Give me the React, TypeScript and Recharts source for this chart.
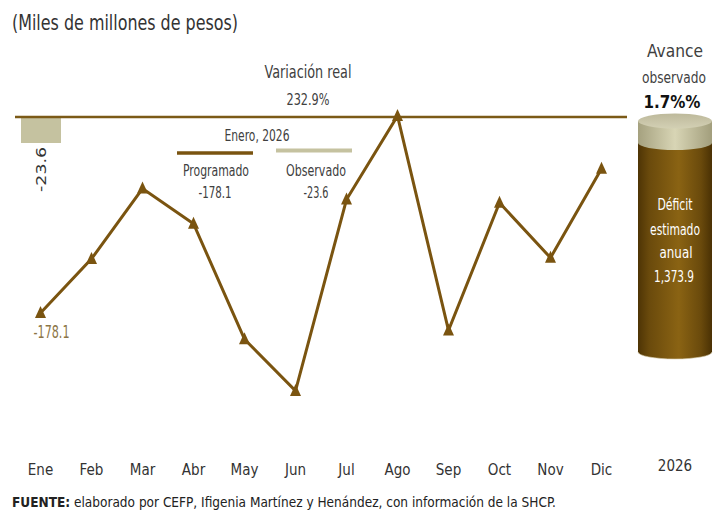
// Balance mensual programado vs observado + cilindro de avance anual.
import { Bar, BarChart, ComposedChart, LabelList, Line, ReferenceLine, XAxis, YAxis } from 'recharts';

const meses = ['Ene', 'Feb', 'Mar', 'Abr', 'May', 'Jun', 'Jul', 'Ago', 'Sep', 'Oct', 'Nov', 'Dic'];
const programado = [-178.1, -129, -65, -97, -202, -249, -75, 1, -194, -78, -128, -47];
const observado: (number | null)[] = [-23.6, null, null, null, null, null, null, null, null, null, null, null];
const anio = ['2026'];
const deficitAnual = [1373.9];

const FONT = "'Liberation Sans Narrow', 'DejaVu Sans Condensed', Roboto, sans-serif";
const BROWN = '#7A5410';
const KHAKI = '#C5C2A0';

const rows = meses.map((m, i) => ({ mes: m, prog: programado[i], obs: observado[i] }));
const cyl = anio.map((a, i) => ({ anio: a, total: deficitAnual[i] }));

function T({ x, y, children, size = 15, w, anchor = 'middle', fill = '#404040', weight = 400, family = FONT }: any) {
  return (
    <text x={x} y={y} textAnchor={anchor} dominantBaseline="central" fontSize={size} fontWeight={weight}
      fill={fill} fontFamily={family} textLength={w} lengthAdjust={w ? 'spacingAndGlyphs' : undefined}>
      {children}
    </text>
  );
}

function MonthTick({ x, y, payload, off = 15 }: any) {
  return <T x={x} y={y + off} size={15} fill="#333">{payload.value}</T>;
}

function Tri({ cx, cy }: any) {
  if (cx == null || cy == null) return null;
  return <polygon points={`${cx},${cy - 7} ${cx - 5.5},${cy + 5} ${cx + 5.5},${cy + 5}`} fill={BROWN} />;
}

function ObsLabel({ x, y, width, height, value }: any) {
  if (value == null) return null;
  const cx = x + width / 2;
  const bottom = Math.max(y, y + height);
  return (
    <text x={cx} y={bottom + 4} transform={`rotate(-90 ${cx} ${bottom + 4})`} textAnchor="end" dominantBaseline="central"
      fontSize={14} fill="#333" fontFamily="'DejaVu Sans', sans-serif" textLength={45} lengthAdjust="spacingAndGlyphs">
      {value}
    </text>
  );
}

function FirstLabel({ x, y, index, value }: any) {
  if (index !== 0) return null;
  return <T x={x + 11} y={y + 19} size={17} w={36} fill="#8B7545">{value}</T>;
}

function Cylinder({ x, y, width, height }: any) {
  const rx = width / 2;
  const ry = 7;
  const cx = x + rx;
  const lightH = height * 0.095;
  const bottom = y + height;
  return (
    <g>
      <defs>
        <linearGradient id="cyl-dark" x1="0" y1="0" x2="1" y2="0">
          <stop offset="0%" stopColor="#4E3405" />
          <stop offset="15%" stopColor="#6A4A0C" />
          <stop offset="55%" stopColor="#8A6313" />
          <stop offset="85%" stopColor="#6A4A0C" />
          <stop offset="100%" stopColor="#4A3104" />
        </linearGradient>
        <linearGradient id="cyl-light" x1="0" y1="0" x2="1" y2="0">
          <stop offset="0%" stopColor="#A5A17F" />
          <stop offset="50%" stopColor="#D8D5B5" />
          <stop offset="100%" stopColor="#A29E7C" />
        </linearGradient>
        <linearGradient id="cyl-top" x1="0" y1="0" x2="0" y2="1">
          <stop offset="0%" stopColor="#BDB99B" />
          <stop offset="100%" stopColor="#D3D0B4" />
        </linearGradient>
      </defs>
      <ellipse cx={cx} cy={bottom} rx={rx} ry={ry} fill="url(#cyl-dark)" stroke="#D9CFAF" strokeWidth={0.6} />
      <rect x={x} y={y + lightH} width={width} height={height - lightH} fill="url(#cyl-dark)" />
      <rect x={x} y={y} width={width} height={lightH} fill="url(#cyl-light)" />
      <ellipse cx={cx} cy={y + lightH} rx={rx} ry={ry} fill="url(#cyl-light)" />
      <ellipse cx={cx} cy={y} rx={rx} ry={ry + 0.5} fill="url(#cyl-top)" />
    </g>
  );
}

export default function App() {
  return (
    <div style={{ position: 'relative', width: 719, height: 518, background: '#fff', fontFamily: FONT }}>
      <style>{'body{margin:0}'}</style>
      <div style={{ position: 'absolute', left: 0, top: 0 }}>
        <ComposedChart width={719} height={518} data={rows} margin={{ top: 73, right: 92, left: 15, bottom: 41 }}>
          <XAxis dataKey="mes" axisLine={false} tickLine={false} height={30} interval={0} tick={<MonthTick />} />
          <YAxis hide domain={[-300, 40]} />
          <Bar dataKey="obs" fill={KHAKI} barSize={40} isAnimationActive={false}>
            <LabelList dataKey="obs" content={<ObsLabel />} />
          </Bar>
          <ReferenceLine y={0} stroke="#7B5A17" strokeWidth={2.5} />
          <Line dataKey="prog" stroke={BROWN} strokeWidth={3} dot={<Tri />} activeDot={false} isAnimationActive={false}>
            <LabelList dataKey="prog" content={<FirstLabel />} />
          </Line>
        </ComposedChart>
      </div>
      <div style={{ position: 'absolute', left: 635, top: 0 }}>
        <BarChart width={80} height={518} data={cyl} margin={{ top: 121, right: 3, left: 3, bottom: 136 }} barCategoryGap={0}>
          <XAxis dataKey="anio" axisLine={false} tickLine={false} height={30} tick={<MonthTick off={106} />} />
          <YAxis hide domain={[0, 1373.9]} />
          <Bar dataKey="total" shape={<Cylinder />} isAnimationActive={false} />
        </BarChart>
      </div>
      <svg width={719} height={518} style={{ position: 'absolute', left: 0, top: 0, pointerEvents: 'none' }}>
        <T x={12} y={23} size={21} w={226} anchor="start" fill="#333">(Miles de millones de pesos)</T>
        <T x={308} y={72} size={17} w={87}>Variación real</T>
        <T x={308} y={99} size={16} w={43}>232.9%</T>
        <T x={257} y={136} size={15} w={65}>Enero, 2026</T>
        <line x1={177} y1={153} x2={253} y2={153} stroke={BROWN} strokeWidth={3.5} />
        <line x1={276} y1={150.5} x2={352} y2={150.5} stroke={KHAKI} strokeWidth={4} />
        <T x={216} y={171} size={15} w={66}>Programado</T>
        <T x={215} y={193} size={15} w={33}>-178.1</T>
        <T x={316} y={171} size={15} w={60}>Observado</T>
        <T x={316} y={193} size={15} w={25}>-23.6</T>
        <T x={675} y={50} size={18} w={56}>Avance</T>
        <T x={674} y={77} size={16} w={64}>observado</T>
        <T x={672} y={101} size={18} w={57} weight={700} fill="#111">1.7%%</T>
        <T x={675} y={205} size={15} w={35} fill="#fff">Déficit</T>
        <T x={675} y={230} size={15} w={50} fill="#fff">estimado</T>
        <T x={676} y={253} size={15} w={33} fill="#fff">anual</T>
        <T x={674} y={277} size={15} w={40} fill="#fff">1,373.9</T>
        <text x={12} y={502} dominantBaseline="central" fontSize={13.5} fill="#222" fontFamily={FONT}
          textLength={544} lengthAdjust="spacingAndGlyphs">
          <tspan fontWeight={700}>FUENTE:</tspan> elaborado por CEFP, Ifigenia Martínez y Henández, con información  de la SHCP.
        </text>
      </svg>
    </div>
  );
}
